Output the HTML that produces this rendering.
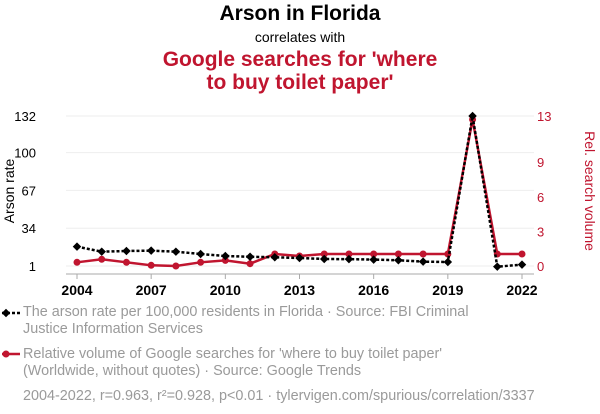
<!DOCTYPE html>
<html><head><meta charset="utf-8"><style>
body{margin:0;width:600px;height:414px;background:#fff;font-family:"Liberation Sans",sans-serif;overflow:hidden;position:relative}
.t{position:absolute;left:0;width:600px;text-align:center}
.leg{position:absolute;left:23px;font-size:14.4px;color:#9a9a9a;line-height:17px}
</style></head><body>
<div class="t" style="top:2px;font-size:21px;font-weight:bold;color:#000">Arson in Florida</div>
<div class="t" style="top:29px;font-size:14px;color:#000">correlates with</div>
<div class="t" style="top:48px;font-size:21px;font-weight:bold;color:#c0152f;line-height:23px">Google searches for 'where<br>to buy toilet paper'</div>
<svg id="c" width="600" height="300" style="position:absolute;left:0;top:0"></svg>
<div class="leg" style="top:304px">The arson rate per 100,000 residents in Florida · Source: FBI Criminal<br>Justice Information Services</div>
<div class="leg" style="top:346px">Relative volume of Google searches for 'where to buy toilet paper'<br>(Worldwide, without quotes) · Source: Google Trends</div>
<div class="leg" style="top:388px">2004-2022, r=0.963, r²=0.928, p&lt;0.01 · tylervigen.com/spurious/correlation/3337</div>
<svg width="22" height="80" style="position:absolute;left:0;top:304px">
<line x1="2" y1="9" x2="20" y2="9" stroke="#000" stroke-width="2.5" stroke-dasharray="3,2"/><rect x="3" y="6" width="6" height="6" transform="rotate(45 6 9)" fill="#000"/>
<line x1="2" y1="50" x2="20" y2="50" stroke="#c0152f" stroke-width="2.5"/><circle cx="6" cy="50" r="3.5" fill="#c0152f"/>
</svg>
<script>
const years=[2004,2005,2006,2007,2008,2009,2010,2011,2012,2013,2014,2015,2016,2017,2018,2019,2020,2021,2022];
const arson=[17.9,13.5,14.1,14.4,13.5,11.5,9.7,9.1,8.6,8.0,7.1,7.0,6.6,6.0,4.8,4.5,132,0.4,2.2];
const searches=[0.32,0.58,0.32,0.06,0,0.32,0.49,0.2,1.04,0.87,1.04,1.04,1.04,1.04,1.04,1.04,12.7,1.04,1.04];
const leftTicks=[1,34,67,100,132];
const rightTicks=[0,3,6,9,13];
const xTicks=[2004,2007,2010,2013,2016,2019,2022];
const NS="http://www.w3.org/2000/svg",svg=document.getElementById('c');
const x=v=>77+(v-2004)*(522-77)/18;
const yL=v=>266-(v-1)*150/131;
const yR=v=>266-v*150/13;
function el(t,a,txt){const e=document.createElementNS(NS,t);for(const k in a)e.setAttribute(k,a[k]);if(txt!==undefined)e.textContent=txt;svg.appendChild(e);return e;}
leftTicks.forEach(v=>{
 const g=el('line',{x1:66,x2:534,y1:yL(v),y2:yL(v),stroke:'#eee'});
 
 
 const t=el('text',{x:36,y:yL(v)+5,'font-size':13,'text-anchor':'end',fill:'#000'},v);
 
 
});
rightTicks.forEach(v=>{
 const t=el('text',{x:537,y:yR(v)+5,'font-size':13,fill:'#c0152f'},v);
 
 
});
const ax=el('line',{x1:66,x2:534,y1:274,y2:274,stroke:'#aaa'});


xTicks.forEach(v=>{
 const tk=el('line',{x1:x(v),x2:x(v),y1:274,y2:279,stroke:'#aaa'});
 
 
 const t=el('text',{x:x(v),y:295,'font-size':14,'font-weight':'bold','text-anchor':'middle',fill:'#000'},v);
 
 
});
const yt=el('text',{transform:'translate(14 191) rotate(-90)','font-size':14,'text-anchor':'middle',fill:'#000'},'Arson rate');


const yt2=el('text',{transform:'translate(585 191) rotate(90)','font-size':14,'text-anchor':'middle',fill:'#c0152f'},'Rel. search volume');


const rl=el('polyline',{points:years.map((y,i)=>x(y)+','+yR(searches[i])).join(' '),fill:'none',stroke:'#c0152f','stroke-width':2.5});


years.forEach((y,i)=>{const c=el('circle',{cx:x(y),cy:yR(searches[i]),r:3.5,fill:'#c0152f'});
 
 });
const bl=el('polyline',{points:years.map((y,i)=>x(y)+','+yL(arson[i])).join(' '),fill:'none',stroke:'#000','stroke-width':2.5,'stroke-dasharray':'3,2'});


years.forEach((y,i)=>{const cx=x(y),cy=yL(arson[i]);
 const r=el('rect',{x:cx-3,y:cy-3,width:6,height:6,fill:'#000',transform:`rotate(45 ${cx} ${cy})`});
 
 });
</script>
</body></html>
